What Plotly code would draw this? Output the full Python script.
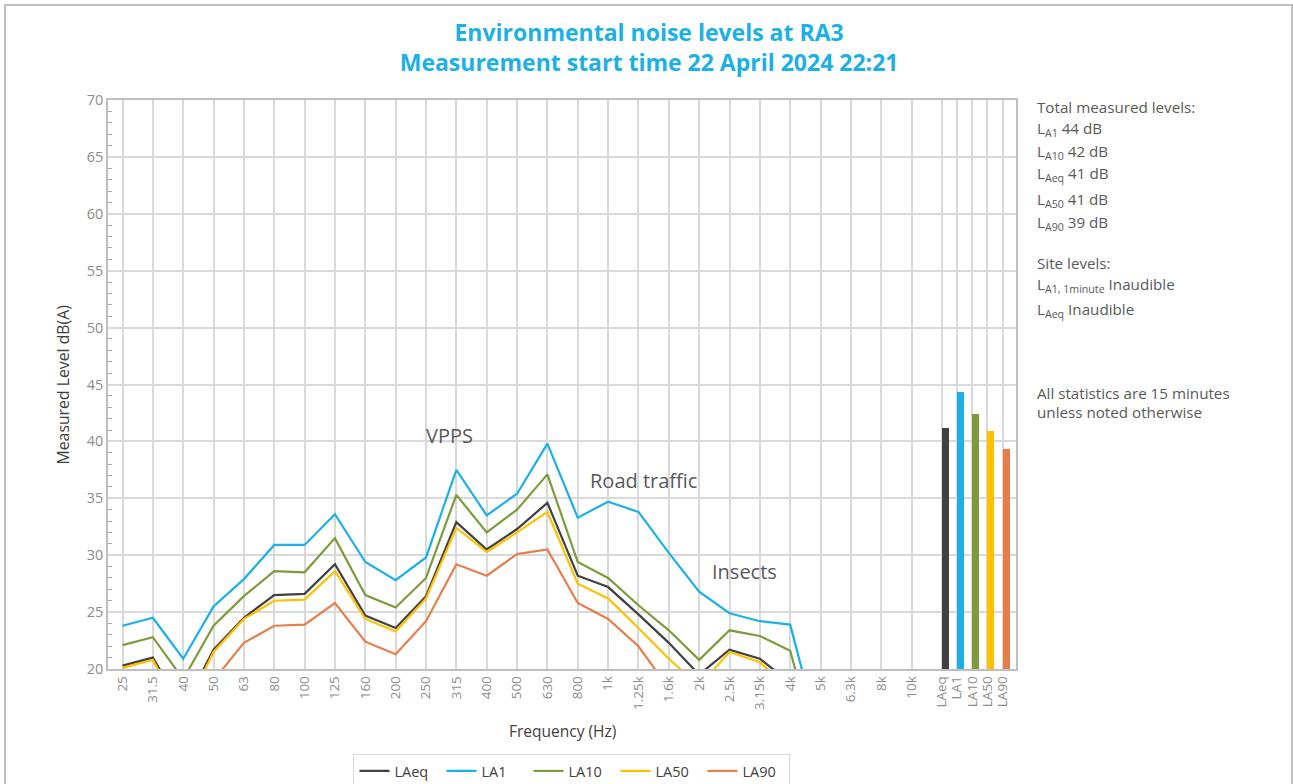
import plotly.graph_objects as go

# ---------------- data ----------------
freq_labels = ["25", "31.5", "40", "50", "63", "80", "100", "125", "160", "200", "250",
               "315", "400", "500", "630", "800", "1k", "1.25k", "1.6k", "2k", "2.5k",
               "3.15k", "4k", "5k", "6.3k", "8k", "10k"]

LAeq = [20.3, 21.0, 16.5, 21.7, 24.5, 26.5, 26.6, 29.2, 24.7, 23.6, 26.4, 32.9, 30.5, 32.3,
        34.6, 28.2, 27.2, 24.8, 22.3, 19.5, 21.7, 20.9, 18.8, 12.0, 10.5, 9.5, 8.5]
LA1 = [23.8, 24.5, 20.9, 25.5, 27.9, 30.9, 30.9, 33.6, 29.4, 27.8, 29.8, 37.5, 33.5, 35.4,
       39.8, 33.3, 34.7, 33.8, 30.2, 26.8, 24.9, 24.2, 23.9, 13.7, 12.5, 11.5, 10.5]
LA10 = [22.1, 22.8, 19.1, 23.8, 26.4, 28.6, 28.5, 31.5, 26.5, 25.4, 28.0, 35.3, 32.0, 34.0,
        37.1, 29.4, 28.0, 25.6, 23.4, 20.8, 23.4, 22.9, 21.6, 11.8, 11.0, 10.0, 9.0]
LA50 = [20.1, 20.8, 16.0, 21.5, 24.4, 26.0, 26.1, 28.6, 24.4, 23.3, 26.2, 32.4, 30.3, 32.0,
        33.8, 27.5, 26.2, 23.6, 20.9, 18.5, 21.5, 20.6, 18.2, 11.5, 10.2, 9.2, 8.2]
LA90 = [17.0, 17.5, 15.0, 19.0, 22.3, 23.8, 23.9, 25.8, 22.4, 21.3, 24.2, 29.2, 28.2, 30.1,
        30.5, 25.8, 24.4, 22.0, 18.3, 16.5, 17.5, 17.0, 15.5, 10.0, 9.0, 8.0, 7.0]

stat_labels = ["LAeq", "LA1", "LA10", "LA50", "LA90"]
stat_totals = [41.15, 44.37, 42.44, 40.95, 39.3]

series_names = ["LAeq", "LA1", "LA10", "LA50", "LA90"]
series_values = [LAeq, LA1, LA10, LA50, LA90]
colors = ["#404040", "#1BB0E6", "#7E9B3C", "#FFC000", "#E57E4B"]

# ---------------- positions ----------------
freq_pos = list(range(len(freq_labels)))
stat_pos = [27.0, 27.5, 28.0, 28.5, 29.0]

FONT = "Open Sans, Noto Sans, sans-serif"
GREY_TXT = "#595959"
TICK_TXT = "#8C8C8C"
GRID = "#D9D9D9"

fig = go.Figure()

for name, vals, col in zip(series_names, series_values, colors):
    fig.add_trace(go.Scatter(
        x=freq_pos, y=vals, mode="lines", name=name,
        line=dict(color=col, width=2.2),
    ))

fig.add_trace(go.Bar(
    x=stat_pos, y=stat_totals, base=0, offset=0, width=0.23,
    marker=dict(color=colors, line=dict(width=0)),
    showlegend=False,
))

fig.update_layout(
    width=1293, height=784,
    margin=dict(l=108, r=277, t=100, b=115),
    paper_bgcolor="white", plot_bgcolor="white",
    font=dict(family=FONT, color=GREY_TXT),
    title=dict(
        text="<b>Environmental noise levels at RA3<br>Measurement start time 22 April 2024 22:21</b>",
        x=0.502, xanchor="center", y=0.948, yanchor="middle",
        font=dict(family=FONT, size=23, color="#1BB0E6"),
    ),
    showlegend=True,
    legend=dict(
        orientation="h", x=0.511, xanchor="center",
        yref="container", y=1 - 754 / 784, yanchor="top",
        bordercolor=GRID, borderwidth=1, bgcolor="white",
        font=dict(family=FONT, size=14.5, color="#404040"),
        itemwidth=30, tracegroupgap=0,
        entrywidth=42, entrywidthmode="pixels",
    ),
    bargap=0,
)

fig.update_xaxes(
    range=[-0.478, 29.44],
    tickmode="array",
    tickvals=freq_pos + stat_pos,
    ticktext=freq_labels + stat_labels,
    tickangle=-90,
    tickfont=dict(family=FONT, size=13.5, color=TICK_TXT),
    showgrid=True, gridcolor=GRID, gridwidth=1.5,
    showline=True, linecolor="#BFBFBF", linewidth=1.5, mirror=True,
    ticks="", zeroline=False,
)

fig.update_yaxes(
    range=[20, 70], dtick=5, tick0=20,
    tickfont=dict(family=FONT, size=14.5, color=TICK_TXT),
    showgrid=True, gridcolor=GRID, gridwidth=1.5,
    showline=True, linecolor="#BFBFBF", linewidth=1.5, mirror=True,
    ticks="", zeroline=False,
    minor=dict(ticks="inside", ticklen=4, dtick=1, tickcolor="#A6A6A6", showgrid=False),
)

# axis titles
fig.add_annotation(text="Frequency (Hz)", xref="paper", yref="paper",
                   x=0.5, y=-0.109, xanchor="center", yanchor="middle", showarrow=False,
                   font=dict(family=FONT, size=15.5, color="#404040"))
fig.add_annotation(text="Measured Level dB(A)", xref="paper", yref="paper",
                   x=-0.0496, y=0.5, xanchor="center", yanchor="middle", textangle=-90,
                   showarrow=False, font=dict(family=FONT, size=15.8, color="#404040"))

# in-plot labels
for txt, xv, yv in [("VPPS", 10.79, 40.56), ("Road traffic", 17.15, 36.6), ("Insects", 20.48, 28.6)]:
    fig.add_annotation(text=txt, x=xv, y=yv, xref="x", yref="y", showarrow=False,
                       xanchor="center", yanchor="middle",
                       font=dict(family=FONT, size=20, color=GREY_TXT))

# right-hand notes
notes = [
    ("Total measured levels:", 107),
    ("L<sub>A1</sub> 44 dB", 129),
    ("L<sub>A10</sub> 42 dB", 152),
    ("L<sub>Aeq</sub> 41 dB", 174),
    ("L<sub>A50</sub> 41 dB", 200),
    ("L<sub>A90</sub> 39 dB", 223),
    ("Site levels:", 263),
    ("L<sub>A1, 1minute</sub> Inaudible", 285),
    ("L<sub>Aeq</sub> Inaudible", 310),
    ("All statistics are 15 minutes", 393),
    ("unless noted otherwise", 412),
]
for txt, py in notes:
    fig.add_annotation(text=txt, xref="paper", yref="paper",
                       x=(1035 - 108) / 908, y=(669 - py) / 569,
                       xanchor="left", yanchor="middle", showarrow=False, align="left",
                       font=dict(family=FONT, size=15.2, color=GREY_TXT))

# outer chart border
fig.add_shape(type="rect", xref="paper", yref="paper",
              x0=(5 - 108) / 908, x1=(1292 - 108) / 908,
              y0=(669 - 800) / 569, y1=(669 - 5) / 569,
              line=dict(color="#BFBFBF", width=2), fillcolor="rgba(0,0,0,0)", layer="below")

fig.write_html("out.html",
               config={"displayModeBar": False},
               post_script="document.body.style.margin='0px';document.body.style.overflow='hidden';")
